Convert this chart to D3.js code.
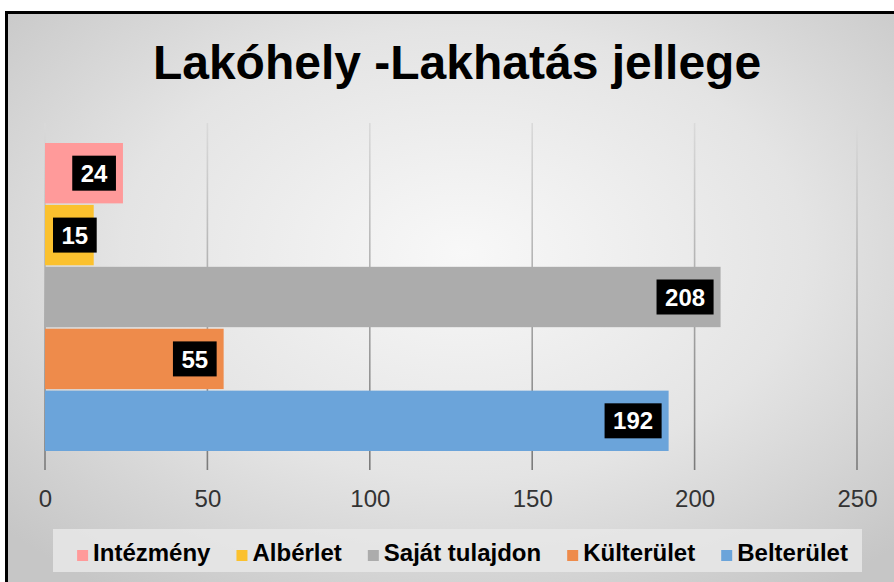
<!DOCTYPE html>
<html><head><meta charset="utf-8">
<script src="https://cdn.jsdelivr.net/npm/d3@7"></script>
<style>html,body{margin:0;padding:0;background:#fff;overflow:hidden}svg{display:block}</style>
</head><body>
<svg id="chart" width="894" height="582"></svg>
<script>
const title = "Lakóhely -Lakhatás jellege";
const series = ["Intézmény", "Albérlet", "Saját tulajdon", "Külterület", "Belterület"];
const values = [24, 15, 208, 55, 192];
const colors = ["#ff9a9a", "#fbc12e", "#acacac", "#ee8b4b", "#6ba4da"];
const ticks = [0, 50, 100, 150, 200, 250];

const svg = d3.select("#chart");
const W = 894, H = 582;
const defs = svg.append("defs");
const bg = defs.append("radialGradient").attr("id","bg").attr("cx","50%").attr("cy","40%").attr("r","68%");
bg.append("stop").attr("offset","0%").attr("stop-color","#f8f8f8");
bg.append("stop").attr("offset","55%").attr("stop-color","#e4e4e4");
bg.append("stop").attr("offset","100%").attr("stop-color","#c6c6c6");
const gg = defs.append("linearGradient").attr("id","grid").attr("gradientUnits","userSpaceOnUse")
  .attr("x1",0).attr("y1",123).attr("x2",0).attr("y2",470);
gg.append("stop").attr("offset","0%").attr("stop-color","#dadada");
gg.append("stop").attr("offset","100%").attr("stop-color","#7a7a7a");

svg.append("rect").attr("x",6.5).attr("y",12.5).attr("width",W+20).attr("height",H+20)
  .attr("fill","url(#bg)").attr("stroke","#000").attr("stroke-width",3);

svg.append("text").attr("x",457).attr("y",79).attr("text-anchor","middle")
  .attr("font-family","Liberation Sans, Arial, sans-serif").attr("font-weight","bold")
  .attr("font-size",48).attr("fill","#000").text(title);

const x = d3.scaleLinear().domain([0,250]).range([45,857]);
const y = d3.scaleBand().domain(series).range([143,451]).paddingInner(0.025);

svg.append("g").selectAll("line").data(ticks).join("line")
  .attr("x1",d=>x(d)).attr("x2",d=>x(d)).attr("y1",123).attr("y2",470)
  .attr("stroke","url(#grid)").attr("stroke-width",1.6);

const axis = d3.axisBottom(x).tickValues(ticks).tickSize(0).tickPadding(0);
const ag = svg.append("g").attr("transform","translate(0,490)").call(axis);
ag.select(".domain").remove();
ag.selectAll("text").attr("font-family","Liberation Sans, Arial, sans-serif")
  .attr("font-size",24).attr("fill","#333").attr("dy","0.71em").attr("y",0);

svg.append("g").selectAll("rect").data(series).join("rect")
  .attr("x",x(0)).attr("y",d=>y(d)).attr("height",y.bandwidth())
  .attr("width",(d,i)=>x(values[i])-x(0)).attr("fill",(d,i)=>colors[i]);

const lg = svg.append("g");
series.forEach((s,i)=>{
  const t = lg.append("text").attr("font-family","Liberation Sans, Arial, sans-serif")
    .attr("font-weight","bold").attr("font-size",24).attr("fill","#fff").text(values[i]);
  const tw = t.node().getComputedTextLength();
  const bw = tw + 17, bh = 35;
  let bx = x(values[i]) - 7 - bw;
  bx = Math.max(bx, x(0) + 8);
  const cy = y(s) + y.bandwidth()/2;
  lg.insert("rect","text").attr("x",bx).attr("y",cy-bh/2).attr("width",bw).attr("height",bh).attr("fill","#000");
  t.attr("x",bx+bw/2).attr("y",cy).attr("dy","0.36em").attr("text-anchor","middle");
});

const leg = svg.append("g");
leg.append("rect").attr("x",53).attr("y",529).attr("width",809).attr("height",43).attr("fill","#e8e8e8").attr("opacity",0.85);
const items = leg.append("g");
let cx = 0;
series.forEach((s,i)=>{
  items.append("rect").attr("x",cx).attr("y",550).attr("width",11).attr("height",11).attr("fill",colors[i]);
  const t = items.append("text").attr("x",cx+16).attr("y",561)
    .attr("font-family","Liberation Sans, Arial, sans-serif").attr("font-weight","bold")
    .attr("font-size",24).attr("fill","#000").text(s);
  cx += 16 + t.node().getComputedTextLength() + 26;
});
const total = cx - 26;
items.attr("transform",`translate(${462.5 - total/2},0)`);
</script>
</body></html>
